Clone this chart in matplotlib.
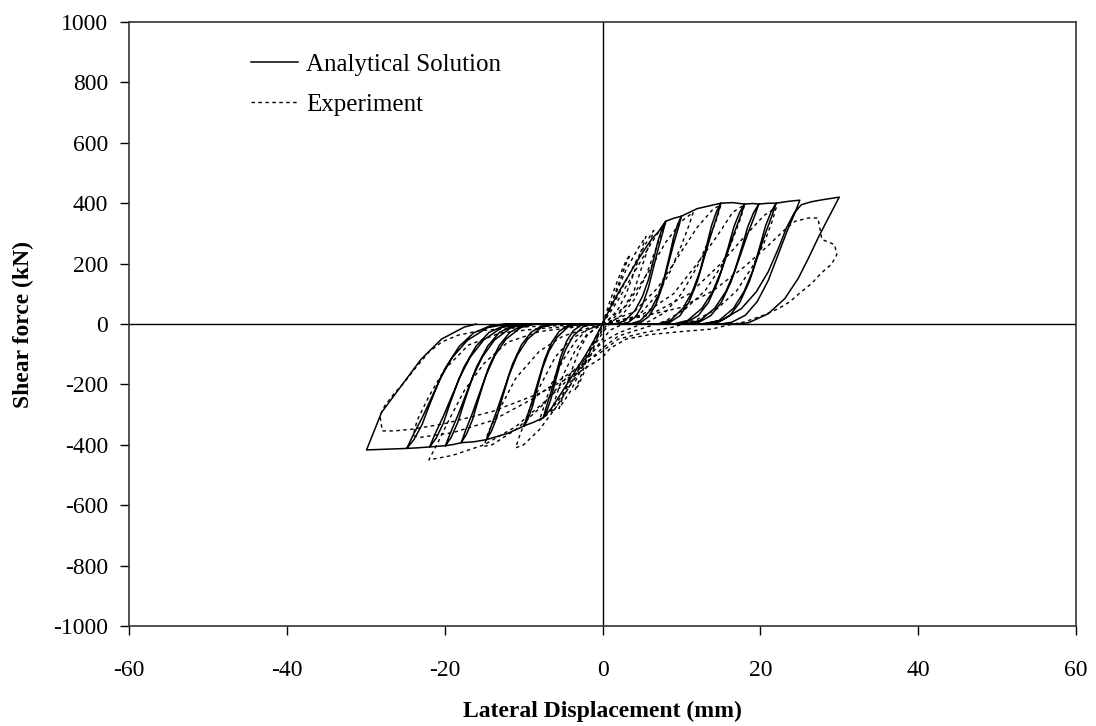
import numpy as np
import matplotlib.pyplot as plt

# ---- Analytical solution: one leaf per half cycle, (x mm, F kN) ----
# positive half cycles: loading branch + unloading branch
ana_pos = [
    [(0, 0), (1.1, 60), (2.2, 112), (3.3, 160), (4.3, 205), (5.4, 249), (6.2, 280), (7.1, 306), (8, 340),
     (7.67, 306), (7.12, 255), (6.46, 187), (5.8, 119), (5.03, 61), (4.2, 24), (3.27, 5), (2.5, 0)],
    [(1.5, 0), (2.8, 10), (4.1, 44), (5.08, 92), (5.86, 150), (6.51, 218), (7.03, 275), (7.55, 316), (8, 340),
     (9, 350), (10, 357),
     (9.64, 321), (9.04, 268), (8.32, 196), (7.6, 125), (6.76, 64), (5.86, 25), (4.84, 5), (4, 0)],
    [(3.5, 0), (4.8, 11), (6.1, 46), (7.08, 96), (7.86, 157), (8.51, 228), (9.03, 289), (9.55, 332), (10, 357),
     (12, 382), (15, 400),
     (14.55, 360), (13.8, 300), (12.9, 220), (12.0, 140), (10.95, 72), (9.83, 28), (8.55, 6), (7.5, 0)],
    [(7, 0), (8.6, 12), (10.2, 52), (11.4, 108), (12.36, 176), (13.16, 256), (13.8, 324), (14.44, 372), (15, 400),
     (16.5, 402), (18, 397),
     (17.49, 357), (16.64, 298), (15.62, 218), (14.6, 139), (13.41, 71), (12.14, 28), (10.69, 6), (9.5, 0)],
    [(9, 0), (10.8, 12), (12.6, 52), (13.95, 107), (15.03, 175), (15.93, 254), (16.65, 322), (17.37, 369), (18, 397),
     (19, 399), (19.8, 397),
     (19.27, 357), (18.39, 298), (17.34, 218), (16.28, 139), (15.05, 71), (13.73, 28), (12.23, 6), (11, 0)],
    [(10.5, 0), (12.36, 12), (14.22, 52), (15.62, 107), (16.73, 175), (17.66, 254), (18.41, 322), (19.15, 369),
     (19.8, 397), (21, 400), (22, 400),
     (21.49, 360), (20.64, 300), (19.62, 220), (18.6, 140), (17.41, 72), (16.14, 28), (14.69, 6), (13.5, 0)],
    [(13, 0), (14.8, 12), (16.6, 52), (17.95, 108), (19.03, 176), (19.93, 256), (20.65, 324), (21.37, 372), (22, 400),
     (23.5, 406), (25, 410),
     (24.4, 369), (23.4, 308), (22.2, 226), (21, 144), (19.6, 74), (18.1, 29), (16.4, 6), (15, 0)],
    [(12.5, 0), (15.1, 12), (17.6, 51), (19.5, 107), (21, 173), (22.3, 251), (23.3, 318), (24.3, 368), (25.2, 395),
     (26.5, 405), (28, 412), (30, 420),
     (29.4, 390), (28.4, 340), (27.3, 284), (26.1, 218), (24.8, 151), (23.1, 84), (21, 34), (18.5, 4), (16.7, 0)],
]
# negative half cycles
ana_neg = [
    [(0, 0), (-1.1, -55), (-2.2, -105), (-3.3, -150), (-4.4, -195), (-5.5, -240), (-6.5, -280), (-7.5, -310),
     (-7.17, -279), (-6.62, -233), (-5.96, -171), (-5.3, -109), (-4.53, -56), (-3.7, -22), (-2.77, -5), (-2, 0)],
    [(-1.2, 0), (-2.46, -9), (-3.72, -40), (-4.67, -84), (-5.42, -136), (-6.05, -198), (-6.56, -251), (-7.06, -288),
     (-7.5, -310), (-8.7, -325), (-9.9, -337),
     (-9.52, -303), (-8.88, -253), (-8.11, -185), (-7.34, -118), (-6.44, -61), (-5.48, -24), (-4.4, -5), (-3.5, 0)],
    [(-3, 0), (-4.38, -10), (-5.76, -44), (-6.8, -91), (-7.62, -148), (-8.31, -216), (-8.87, -273), (-9.42, -313),
     (-9.9, -337), (-12, -362), (-14.7, -383),
     (-14.21, -345), (-13.39, -287), (-12.4, -211), (-11.42, -134), (-10.27, -69), (-9.04, -27), (-7.65, -6), (-6.5, 0)],
    [(-6, 0), (-7.74, -11), (-9.48, -50), (-10.79, -103), (-11.83, -169), (-12.7, -245), (-13.4, -310), (-14.09, -356),
     (-14.7, -383), (-16.3, -390), (-17.9, -393),
     (-17.37, -354), (-16.48, -295), (-15.41, -216), (-14.34, -138), (-13.09, -71), (-11.76, -28), (-10.25, -6), (-9, 0)],
    [(-8.5, 0), (-10.38, -12), (-12.26, -51), (-13.67, -106), (-14.8, -173), (-15.74, -252), (-16.49, -318),
     (-17.24, -365), (-17.9, -393), (-18.9, -399), (-19.9, -403),
     (-19.31, -363), (-18.32, -302), (-17.13, -222), (-15.94, -141), (-14.55, -73), (-13.07, -28), (-11.39, -6), (-10, 0)],
    [(-9.5, 0), (-11.58, -12), (-13.66, -52), (-15.22, -109), (-16.47, -177), (-17.51, -258), (-18.34, -326),
     (-19.17, -375), (-19.9, -403), (-20.9, -405), (-21.9, -407),
     (-21.25, -366), (-20.16, -305), (-18.85, -224), (-17.54, -142), (-16.01, -73), (-14.38, -28), (-12.53, -6), (-11, 0)],
    [(-10.5, 0), (-12.78, -12), (-15.06, -53), (-16.77, -110), (-18.14, -179), (-19.28, -260), (-20.19, -330),
     (-21.1, -379), (-21.9, -407), (-23.4, -410), (-24.8, -412),
     (-24.06, -371), (-22.83, -309), (-21.36, -227), (-19.88, -144), (-18.16, -74), (-16.31, -29), (-14.22, -6), (-12.5, 0)],
    [(-12, 0), (-14.56, -12), (-17.12, -54), (-19.04, -111), (-20.58, -181), (-21.86, -264), (-22.88, -334),
     (-23.9, -383), (-24.8, -412), (-27, -414), (-29.9, -417),
     (-28, -293), (-25.5, -205), (-23, -117), (-20.4, -50), (-17.5, -10), (-16, 0)],
]

# ---- Experiment: full cycles ----
exp_cycles = [
    [(0, 0), (1, 80), (2, 150), (3, 210), (3.5, 230), (3, 200), (2, 130), (1, 60), (0, 0), (-1, -70), (-2, -140),
     (-3, -200), (-3.5, -220), (-3, -190), (-2, -120), (-1, -50), (0, 0)],
    [(0, 0), (1.5, 90), (3, 180), (4.5, 250), (5.5, 290), (5, 250), (4, 170), (3, 100), (2, 50), (1, 20), (0, -10),
     (-1, -60), (-2.5, -140), (-4, -220), (-5.5, -280), (-5, -240), (-4, -160), (-3, -90), (-2, -40), (-1, -15), (0, 0)],
    [(0, 0), (2.5, 120), (4.5, 220), (6, 290), (6.5, 310), (6, 270), (5, 190), (4, 110), (2.5, 45), (1, 10),
     (0, -20), (-1.5, -80), (-3, -150), (-4.5, -220), (-6, -280), (-6.5, -295), (-6, -250), (-5, -170),
     (-3.5, -90), (-2, -35), (0, 0)],
    [(0, 0), (2, 80), (4, 170), (6, 260), (7.5, 320), (8, 335), (7.5, 300), (6.5, 230), (5.5, 160), (4, 80), (2.5, 30),
     (1, 5), (0, -30), (-1.5, -90), (-3.5, -170), (-5.5, -250), (-7, -300), (-8, -320), (-7.5, -280), (-6.5, -200),
     (-5, -120), (-3.5, -60), (-2, -20), (0, 0)],
    [(0, 0), (3, 60), (6, 180), (8, 270), (10, 340), (11.5, 370), (11, 330), (10, 260), (8.5, 170), (7, 100), (5, 40),
     (3, 5), (1, -20), (0, -50), (-2, -120), (-4, -200), (-6, -280), (-8, -350), (-10, -400), (-11, -410),
     (-10.5, -370), (-9.5, -300), (-8, -210), (-6, -110), (-4, -50), (-2, -20), (0, 0)],
    [(0, 0), (4, 40), (7, 120), (10, 240), (12, 320), (14, 380), (15, 395), (14.5, 350), (13.5, 280), (12, 190),
     (10, 100), (8, 40), (6, 10), (4, -10), (2, -30), (0, -60), (-2, -110), (-5, -190), (-8, -280), (-11, -350),
     (-14, -400), (-15, -405), (-14.5, -360), (-13, -280), (-11, -180), (-8, -90), (-5, -40), (-2, -15), (0, 0)],
    [(0, 0), (5, 30), (9, 100), (12, 200), (14.5, 290), (16.5, 370), (18, 395), (17.5, 350), (16.5, 280), (15, 190),
     (13, 110), (10.5, 50), (8, 10), (5, -15), (2, -40), (0, -80), (-3, -150), (-7, -250), (-11, -340), (-15, -400),
     (-19, -435), (-22, -450), (-21, -400), (-19.5, -320), (-17.5, -220), (-15, -130), (-12, -60), (-8, -25),
     (-4, -12), (0, 0)],
    [(0, 0), (6, 30), (11, 100), (15, 200), (18, 290), (20.5, 360), (22, 385), (21.5, 340), (20.5, 270), (19, 190),
     (17, 110), (14.5, 50), (12, 15), (9, -10), (5, -30), (2, -50), (0, -90), (-4, -160), (-9, -250), (-14, -320),
     (-19, -360), (-23, -375), (-24, -370), (-23.5, -320), (-22, -240), (-20, -150), (-17, -70), (-13, -30),
     (-8, -15), (-4, -8), (0, 0)],
    [(0, 0), (5, 25), (10, 55), (14, 110), (18, 190), (21, 260), (23, 310), (24.4, 340), (26.1, 351), (27.3, 351),
     (27.5, 323), (27.8, 280), (29.4, 263), (29.7, 230), (29.0, 197), (28.2, 180), (27.3, 157), (26.5, 134),
     (25.2, 107), (23.7, 73), (22.3, 51), (20.5, 30), (18, 7), (16, -3), (13.8, -17), (10, -25), (6, -35), (3, -50),
     (1, -80), (0, -110), (-3, -160), (-8, -230), (-14, -290), (-20, -330), (-24, -348), (-26.4, -354),
     (-27.9, -354), (-28.2, -304), (-27.6, -271), (-26.3, -227), (-25.1, -193), (-23.8, -149), (-22, -93),
     (-20.4, -60), (-18.3, -37), (-15.3, -21), (-12.4, -16), (-9.4, -9), (-5, -5), (0, 0)],
]

# join the analytical half cycles into one path
ana_path = []
for p, n in zip(ana_pos, ana_neg):
    ana_path += p + n
ana = np.array(ana_path)

plt.rcParams['font.family'] = ['Liberation Serif', 'DejaVu Serif']
plt.rcParams['axes.unicode_minus'] = False

fig = plt.figure(figsize=(10.96, 7.26), dpi=100)
ax = fig.add_axes([129 / 1096, 1 - 626 / 726, 947 / 1096, 604 / 726])

ax.axhline(0, color='black', lw=1.0, zorder=1)
ax.axvline(0, color='black', lw=1.0, zorder=1)

ax.plot(ana[:, 0], ana[:, 1], color='black', lw=1.1, label='Analytical Solution', zorder=3)
for i, c in enumerate(exp_cycles):
    c = np.array(c)
    ax.plot(c[:, 0], c[:, 1], color='black', lw=1.0, ls=(0, (2.5, 2.5)),
            label='Experiment' if i == 0 else None, zorder=2)

ax.set_xlim(-60, 60)
ax.set_ylim(-1000, 1000)
ax.set_xticks(np.arange(-60, 61, 20))
ax.set_yticks(np.arange(-1000, 1001, 200))
ax.tick_params(axis='both', direction='out', length=6.5, width=1, labelsize=17)
ax.tick_params(axis='x', pad=18)
ax.tick_params(axis='y', pad=8.5)
for s in ax.spines.values():
    s.set_linewidth(1.2)
    s.set_color('#333333')

ax.set_xlabel('Lateral Displacement (mm)', fontsize=17, fontweight='bold', labelpad=14)
ax.set_ylabel('Shear force (kN)', fontsize=17, fontweight='bold', labelpad=14)

ax.legend(loc='upper left', bbox_to_anchor=(0.105, 0.985), frameon=False, fontsize=18,
          handlelength=1.9, handletextpad=0.3, labelspacing=0.7)

fig.savefig('out.png', dpi=100)
